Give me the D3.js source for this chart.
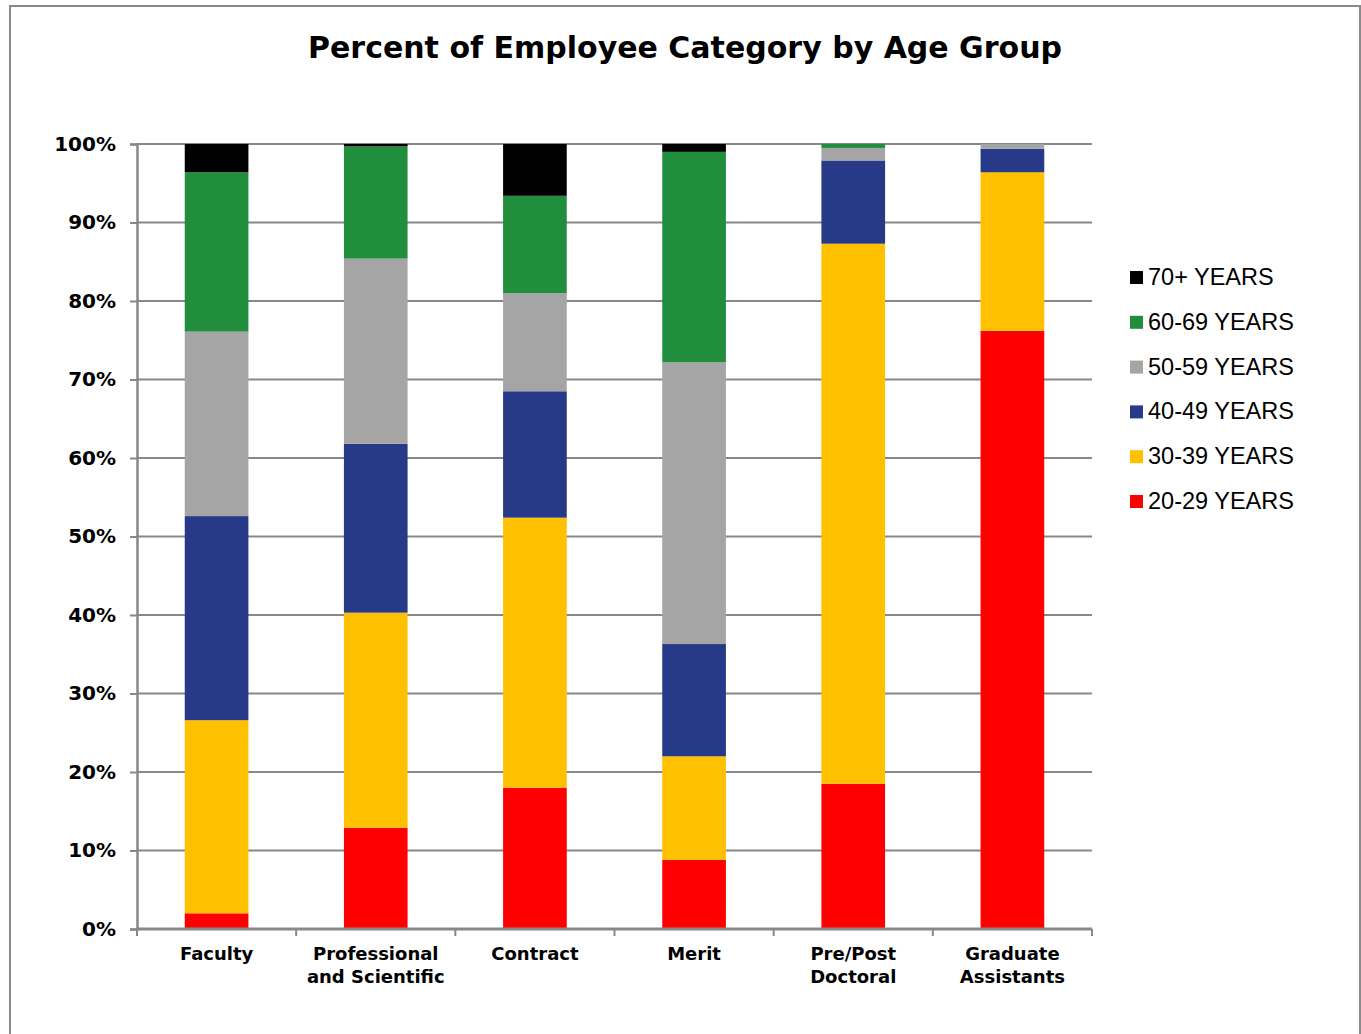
<!DOCTYPE html>
<html><head><meta charset="utf-8">
<script src="https://cdn.jsdelivr.net/npm/d3@7"></script>
<style>body{margin:0;background:#fff;}svg{display:block;}</style>
</head><body>
<svg id="chart" width="1361" height="1034"></svg>
<script>
const categories = [["Faculty"], ["Professional", "and Scientific"], ["Contract"], ["Merit"], ["Pre/Post", "Doctoral"], ["Graduate", "Assistants"]];
const seriesNames = ["20-29 YEARS", "30-39 YEARS", "40-49 YEARS", "50-59 YEARS", "60-69 YEARS", "70+ YEARS"];
const colors = ["#FF0000", "#FFC000", "#263A87", "#A5A5A5", "#218E3E", "#000000"];
const age20 = [2.0, 12.9, 18.0, 8.8, 18.5, 76.2];
const age30 = [24.6, 27.4, 34.4, 13.2, 68.8, 20.2];
const age40 = [26.0, 21.5, 16.1, 14.3, 10.6, 3.0];
const age50 = [23.5, 23.6, 12.5, 35.9, 1.6, 0.6];
const age60 = [20.3, 14.3, 12.4, 26.8, 0.5, 0.0];
const age70 = [3.6, 0.3, 6.6, 1.0, 0.0, 0.0];
const yTicks = [0, 10, 20, 30, 40, 50, 60, 70, 80, 90, 100];
const title = "Percent of Employee Category by Age Group";

(function () {
const seriesValues = [age20, age30, age40, age50, age60, age70];
const rows = categories.map((c, i) => {
  const r = {key: i};
  seriesNames.forEach((s, j) => r[s] = seriesValues[j][i]);
  return r;
});

const svg = d3.select("#chart");
svg.append("rect").attr("x", 10).attr("y", 6).attr("width", 1350).attr("height", 1040)
  .attr("fill", "#fff").attr("stroke", "#8a8a8a").attr("stroke-width", 2);

const pL = 137, pR = 1092, pT = 144, pB = 929;
const x = d3.scaleBand().domain(categories.map((c, i) => i)).range([pL, pR]).paddingInner(0.6).paddingOuter(0.3);
const xb = d3.scaleBand().domain(categories.map((c, i) => i)).range([pL, pR]);
const y = d3.scaleLinear().domain([0, 100]).range([pB, pT]);

svg.append("text").attr("x", 685).attr("y", 58).attr("text-anchor", "middle")
  .attr("font-family", "DejaVu Sans").attr("font-weight", "bold").attr("font-size", 30).text(title);

// gridlines
svg.append("g").selectAll("line").data(yTicks.filter(t => t > 0)).join("line")
  .attr("x1", pL).attr("x2", pR).attr("y1", d => y(d)).attr("y2", d => y(d))
  .attr("stroke", "#888").attr("stroke-width", 2);

const stack = d3.stack().keys(seriesNames)(rows);
svg.append("g").selectAll("g").data(stack).join("g")
  .attr("fill", (d, i) => colors[i])
  .selectAll("rect").data(d => d).join("rect")
  .attr("x", d => x(d.data.key)).attr("width", x.bandwidth())
  .attr("y", d => y(d[1])).attr("height", d => y(d[0]) - y(d[1]));

// y axis
const yAxis = d3.axisLeft(y).tickValues(yTicks).tickFormat(d => d + "%").tickSize(7).tickPadding(14);
const gy = svg.append("g").attr("transform", `translate(${pL},0)`).call(yAxis);
gy.select(".domain").attr("stroke", "#888").attr("stroke-width", 2.5);
gy.selectAll(".tick line").attr("stroke", "#888").attr("stroke-width", 2);
gy.selectAll(".tick text").attr("font-family", "DejaVu Sans").attr("font-weight", "bold").attr("font-size", 20).attr("fill", "#000");

// x axis
const gx = svg.append("g").attr("transform", `translate(0,${pB})`);
gx.append("line").attr("x1", pL).attr("x2", pR).attr("stroke", "#888").attr("stroke-width", 3);
const bounds = categories.map((c, i) => xb(i)).concat([pR]);
gx.selectAll(".xt").data(bounds).join("line").attr("class", "xt")
  .attr("x1", d => d).attr("x2", d => d).attr("y1", 0).attr("y2", 7)
  .attr("stroke", "#888").attr("stroke-width", 2);
const lbl = gx.selectAll(".xl").data(categories).join("text").attr("class", "xl")
  .attr("text-anchor", "middle").attr("font-family", "DejaVu Sans").attr("font-weight", "bold").attr("font-size", 18)
  .attr("transform", (d, i) => `translate(${xb(i) + xb.bandwidth() / 2},31)`);
lbl.selectAll("tspan").data(d => d).join("tspan").attr("x", 0).attr("dy", (d, j) => j === 0 ? 0 : 23).text(d => d);

// legend
const legendOrder = seriesNames.map((s, i) => i).reverse();
const lg = svg.append("g").selectAll("g").data(legendOrder).join("g")
  .attr("transform", (d, k) => `translate(1130,${271 + k * 44.8})`);
lg.append("rect").attr("width", 13).attr("height", 13).attr("fill", d => colors[d]);
lg.append("text").attr("x", 18).attr("y", 14).attr("font-family", "Liberation Sans").attr("font-size", 23.5).attr("fill", "#000")
  .text(d => seriesNames[d]);
})();
</script>
</body></html>
